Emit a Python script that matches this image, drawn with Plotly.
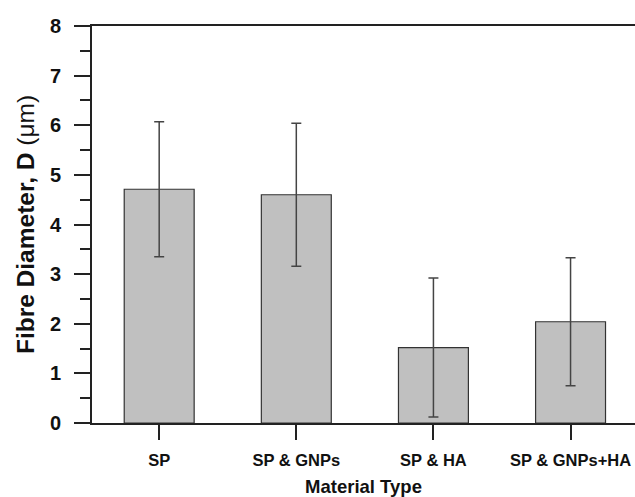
import plotly.graph_objects as go

categories = ["SP", "SP & GNPs", "SP & HA", "SP & GNPs+HA"]
diameters = [4.71, 4.60, 1.52, 2.04]
errors = [1.36, 1.44, 1.40, 1.29]
y_ticks = [0, 1, 2, 3, 4, 5, 6, 7, 8]

font_family = "Arial, Liberation Sans, sans-serif"

fig = go.Figure()
fig.add_trace(go.Bar(
    x=list(range(len(categories))),
    y=diameters,
    width=0.51,
    marker=dict(color="#c0c0c0", line=dict(color="#333333", width=1.2)),
    error_y=dict(type="data", array=errors, visible=True, color="#444444", thickness=1.5, width=5),
))

fig.update_layout(
    width=635, height=497,
    margin=dict(l=92, r=0, t=26, b=74),
    plot_bgcolor="white", paper_bgcolor="white",
    showlegend=False,
    font=dict(family=font_family, color="black"),
    xaxis=dict(
        range=[-0.49, 3.47],
        tickmode="array",
        tickvals=list(range(len(categories))),
        ticktext=[f"<b>{c}</b>" for c in categories],
        tickfont=dict(size=16.5, family=font_family, color="#111"),
        ticks="outside", ticklen=15, tickwidth=1.5, tickcolor="#222",
        ticklabelstandoff=6,
        showline=True, linecolor="#222", linewidth=2, mirror=True,
        showgrid=False, zeroline=False,
        title=dict(text="<b>Material Type</b>", font=dict(size=18.5, family=font_family, color="#111"), standoff=14),
    ),
    yaxis=dict(
        range=[0, 8],
        tickmode="array",
        tickvals=y_ticks,
        ticktext=[f"<b>{v}</b>" for v in y_ticks],
        tickfont=dict(size=20, family=font_family, color="#111"),
        ticks="outside", ticklen=16, tickwidth=1.5, tickcolor="#222",
        ticklabelstandoff=9,
        minor=dict(dtick=0.5, ticks="outside", ticklen=10, tickwidth=1.5, tickcolor="#222", showgrid=False),
        showline=True, linecolor="#222", linewidth=2, mirror=False,
        showgrid=False, zeroline=False,
        title=dict(text="<b>Fibre Diameter, D</b> (μm)", font=dict(size=24.5, family=font_family, color="#111"), standoff=8),
    ),
)

fig.write_html("out.html")
